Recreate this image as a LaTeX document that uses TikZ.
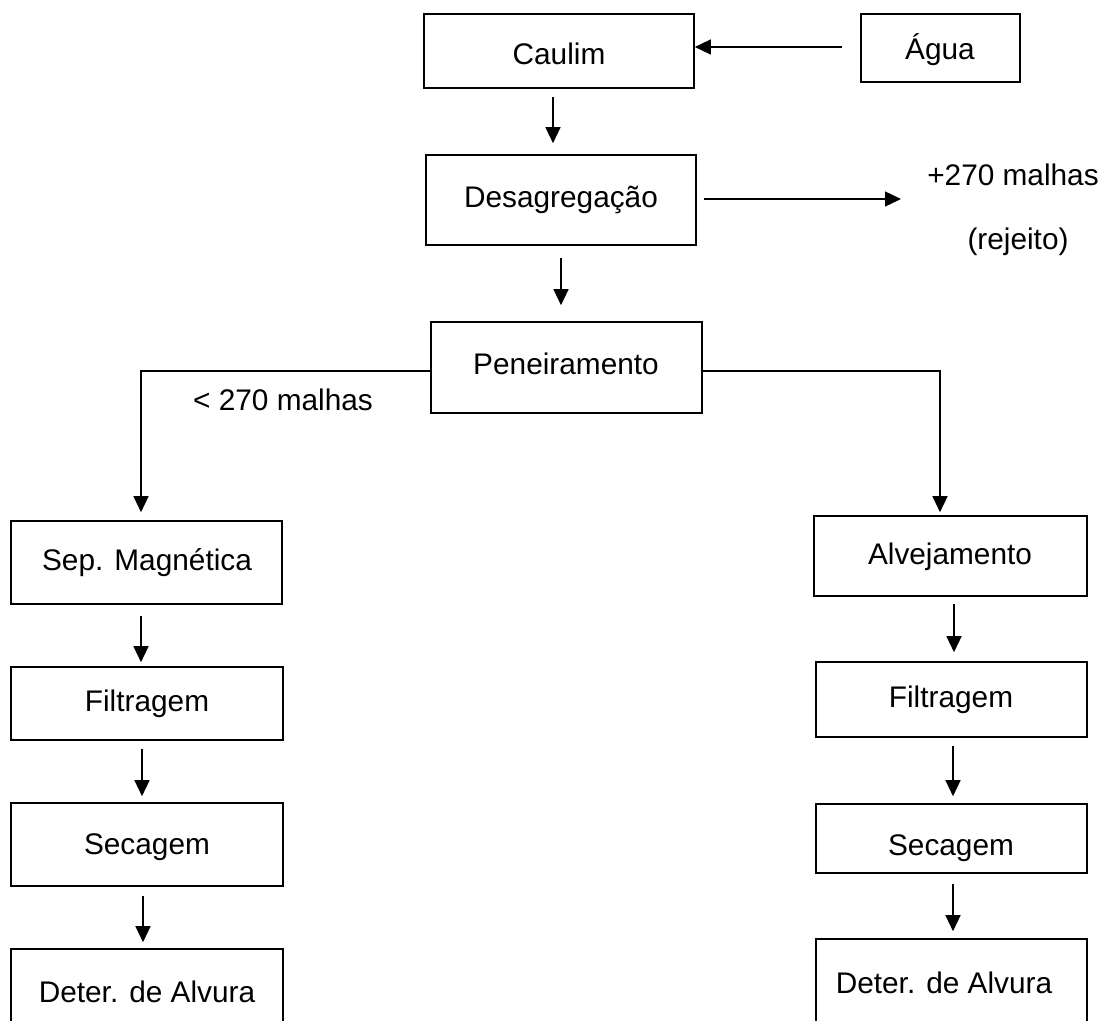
\documentclass[tikz,border=0pt]{standalone}
\usepackage{fontspec}
\setmainfont{Liberation Sans}
\usetikzlibrary{arrows.meta}
\begin{document}
\begin{tikzpicture}[x=1pt,y=-1pt,
  box/.style={draw, line width=1.6pt, inner sep=0pt},
  txt/.style={inner sep=0pt, font=\fontsize{29.8}{36}\selectfont},
  arr/.style={line width=1.3pt, -{Triangle[length=16pt,width=15pt]}}]
\useasboundingbox (0,0) rectangle (1100,1020);
\clip (0,0) rectangle (1100,1020);
% boxes
\node[box, minimum width=270pt, minimum height=74pt] (caulim) at (559,51) {};
\node[box, minimum width=159pt, minimum height=68pt] (agua) at (940.5,48) {};
\node[box, minimum width=270pt, minimum height=90pt] (desag) at (561,200) {};
\node[box, minimum width=271pt, minimum height=91pt] (pen) at (566.5,367.5) {};
\node[box, minimum width=271pt, minimum height=83pt] (sep) at (146.5,562.5) {};
\node[box, minimum width=272pt, minimum height=73pt] (filtL) at (147,703.5) {};
\node[box, minimum width=272pt, minimum height=83pt] (secL) at (147,844.5) {};
\node[box, minimum width=272pt, minimum height=91pt] (detL) at (147,994.5) {};
\node[box, minimum width=273pt, minimum height=80pt] (alv) at (950.5,556) {};
\node[box, minimum width=271pt, minimum height=75pt] (filtR) at (951.5,699.5) {};
\node[box, minimum width=271pt, minimum height=69pt] (secR) at (951.5,838.5) {};
\node[box, minimum width=271pt, minimum height=101pt] (detR) at (951.5,989.5) {};
% texts
\node[txt] (tcaulim) at (559,54) {Caulim};
\node[txt] (tagua) at (940,50) {Água};
\node[txt] (tdesag) at (561,200) {Desagregação};
\node[txt] (tpen) at (566,364) {Peneiramento};
\node[txt] (tmenos) at (283,400) {< 270 malhas};
\node[txt] (tmais) at (1013,175) {+270 malhas};
\node[txt] (trej) at (1018,242) {(rejeito)};
\node[txt] (tsep) at (147,563) {Sep. Magnética};
\node[txt] (tfiltL) at (147,704) {Filtragem};
\node[txt] (tsecL) at (147,847) {Secagem};
\node[txt] (tdetL) at (147,992) {Deter. de Alvura};
\node[txt] (talv) at (950,557) {Alvejamento};
\node[txt] (tfiltR) at (951,700) {Filtragem};
\node[txt] (tsecR) at (951,848) {Secagem};
\node[txt] (tdetR) at (944,983) {Deter. de Alvura};
% connectors
\coordinate (rejin) at (901,199);
\draw[arr, shorten <=18pt] ([yshift=1pt]agua.west) -- ([yshift=1pt]agua.west -| caulim.east);
\draw[arr, shorten <=8pt, shorten >=11pt] ([xshift=-6pt]caulim.south) -- ([xshift=-6pt]caulim.south |- desag.north);
\draw[arr, shorten <=7pt] ([yshift=1pt]desag.east) -- (rejin);
\draw[arr, shorten <=12pt, shorten >=16pt] (desag.south) -- (desag.south |- pen.north);
\draw[arr, shorten >=8pt] ([yshift=-3.5pt]pen.west) -| ([xshift=-5.5pt]sep.north);
\draw[arr, shorten >=3pt] ([yshift=-3.5pt]pen.east) -| ([xshift=-10.5pt]alv.north);
\draw[arr, shorten <=11pt, shorten >=4pt] ([xshift=-5.5pt]sep.south) -- ([xshift=-5.5pt]sep.south |- filtL.north);
\draw[arr, shorten <=8pt, shorten >=6pt] ([xshift=-5pt]filtL.south) -- ([xshift=-5pt]filtL.south |- secL.north);
\draw[arr, shorten <=9pt, shorten >=6pt] ([xshift=-4pt]secL.south) -- ([xshift=-4pt]secL.south |- detL.north);
\draw[arr, shorten <=7pt, shorten >=9pt] ([xshift=3.5pt]alv.south) -- ([xshift=3.5pt]alv.south |- filtR.north);
\draw[arr, shorten <=8pt, shorten >=7pt] ([xshift=1.5pt]filtR.south) -- ([xshift=1.5pt]filtR.south |- secR.north);
\draw[arr, shorten <=10pt, shorten >=7pt] ([xshift=1.5pt]secR.south) -- ([xshift=1.5pt]secR.south |- detR.north);
\end{tikzpicture}
\end{document}
